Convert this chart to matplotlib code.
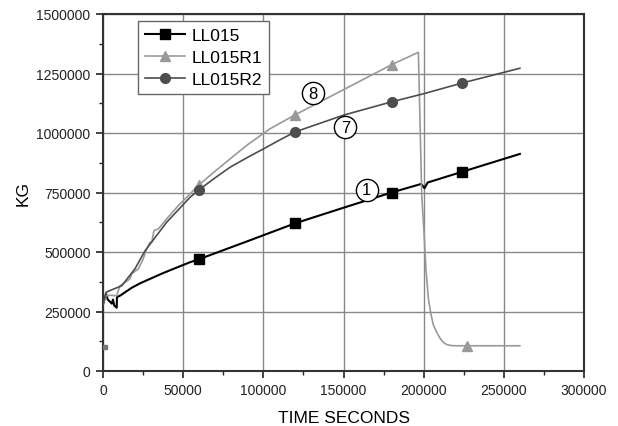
import matplotlib.pyplot as plt
from matplotlib.ticker import MultipleLocator, FuncFormatter

plt.rcParams['font.family'] = ['Liberation Sans', 'DejaVu Sans']

# LL015 (black, squares)
t_ll015 = [0, 1900, 3000, 4500, 5500, 6200, 7000, 8550, 8700, 11000, 14000, 18000, 23000,
           29300, 37000, 45000, 54300, 60000, 90000, 120000, 150000, 180000, 198500, 200500,
           202500, 224000, 260000]
kg_ll015 = [280000, 323000, 300000, 290000, 283000, 300000, 275000, 266000, 310000, 318000,
            332000, 350000, 368000, 387000, 410000, 432000, 457000, 470000, 545000, 621000,
            686000, 750000, 786000, 768000, 792000, 837000, 912000]
mk_ll015 = [60000, 120000, 180000, 224000]

# LL015R1 (light gray, triangles)
t_r1 = [0, 1900, 5000, 8500, 10600, 16800, 17900, 22000, 25100, 26800, 29300, 30400, 31800,
        34500, 39700, 47000, 54300, 60000, 70000, 79200, 90000, 104000, 120000, 150000,
        180000, 196700, 198800, 200200, 201500, 203000, 204500, 206000, 208100, 210000,
        212000, 214400, 217000, 220000, 260000]
kg_r1 = [280000, 316000, 318000, 316000, 358000, 387000, 408000, 429000, 471000, 506000,
         541000, 541000, 590000, 597000, 639000, 695000, 744000, 783000, 840000, 891000,
         950000, 1017000, 1077000, 1182000, 1287000, 1339000, 736000, 583000, 420000,
         302000, 240000, 195000, 163000, 140000, 122000, 111000, 107000, 106000, 106000]
mk_r1 = [60000, 120000, 180000, 227000]
start_r1_t = [1000]
start_r1_kg = [100000]

# LL015R2 (dark gray, circles)
t_r2 = [0, 1900, 5000, 11700, 20000, 26200, 39700, 54300, 60000, 70000, 79200, 90000,
        100000, 110000, 120000, 150000, 180000, 200000, 224000, 260000]
kg_r2 = [280000, 331000, 340000, 358000, 430000, 505000, 625000, 730000, 762000, 812000,
         856000, 897000, 933000, 970000, 1005000, 1075000, 1131000, 1165000, 1210000, 1272000]
mk_r2 = [60000, 120000, 180000, 224000]

# circled curve labels
lab_text = ['8', '7', '1']
lab_t = [131200, 151100, 164500]
lab_kg = [1168000, 1024000, 761300]


def at(ts, ks, t):
    # value of a series at time t (linear between read points)
    for i in range(len(ts) - 1):
        if ts[i] <= t <= ts[i + 1]:
            f = (t - ts[i]) / (ts[i + 1] - ts[i])
            return ks[i] + f * (ks[i + 1] - ks[i])
    return ks[-1]


fig = plt.figure(figsize=(6.18, 4.27), dpi=100)
ax = fig.add_axes([103 / 618, 55 / 427, 481 / 618, 357 / 427])

series = [
    ('LL015', t_ll015, kg_ll015, mk_ll015, '#000000', 's', 1.5, 6.5),
    ('LL015R1', t_r1, kg_r1, mk_r1, '#999999', '^', 1.2, 7),
    ('LL015R2', t_r2, kg_r2, mk_r2, '#4d4d4d', 'o', 1.2, 7),
]
handles = []
for name, ts, ks, mks, col, m, lw, ms in series:
    ax.plot(ts, ks, color=col, lw=lw, zorder=3)
    ax.plot(mks, [at(ts, ks, t) for t in mks], ls='none', marker=m, ms=ms,
            color=col, zorder=4)
    h, = ax.plot([], [], color=col, lw=lw, marker=m, ms=ms, label=name)
    handles.append(h)

ax.plot(start_r1_t, start_r1_kg, ls='none', marker='s', ms=3.5, color='#777777', zorder=3)

for s, t, k in zip(lab_text, lab_t, lab_kg):
    ax.plot([t], [k], marker='o', ms=16, mfc='white', mec='black', mew=1.0, zorder=5)
    ax.text(t, k, s, ha='center', va='center', fontsize=12, zorder=6)

ax.set_xlim(0, 300000)
ax.set_ylim(0, 1500000)
ax.xaxis.set_major_locator(MultipleLocator(50000))
ax.xaxis.set_minor_locator(MultipleLocator(25000))
ax.yaxis.set_major_locator(MultipleLocator(250000))
ax.yaxis.set_minor_locator(MultipleLocator(125000))
plain = FuncFormatter(lambda v, p: '%d' % v)
ax.xaxis.set_major_formatter(plain)
ax.yaxis.set_major_formatter(plain)
ax.tick_params(which='major', direction='out', length=5, width=1.2, labelsize=10,
               colors='#222222', pad=4)
ax.tick_params(which='minor', direction='out', length=3, width=1.0, colors='#222222')
ax.grid(True, which='major', color='#888888', lw=1.0)
ax.set_axisbelow(True)
for sp in ax.spines.values():
    sp.set_color('#333333')
    sp.set_linewidth(1.5)

ax.set_xlabel('TIME SECONDS', fontsize=12.5, labelpad=9)
ax.set_ylabel('KG', fontsize=12.5, labelpad=4)

leg = ax.legend(handles=handles, loc='upper left', bbox_to_anchor=(0.072, 0.981),
                fontsize=12.5, frameon=True, fancybox=False, borderaxespad=0,
                handlelength=2.3, handletextpad=0.4, labelspacing=0.4, borderpad=0.4)
leg.get_frame().set_edgecolor('#666666')
leg.get_frame().set_linewidth(1.0)
leg.get_frame().set_alpha(1)

fig.savefig('out.png', dpi=100)
